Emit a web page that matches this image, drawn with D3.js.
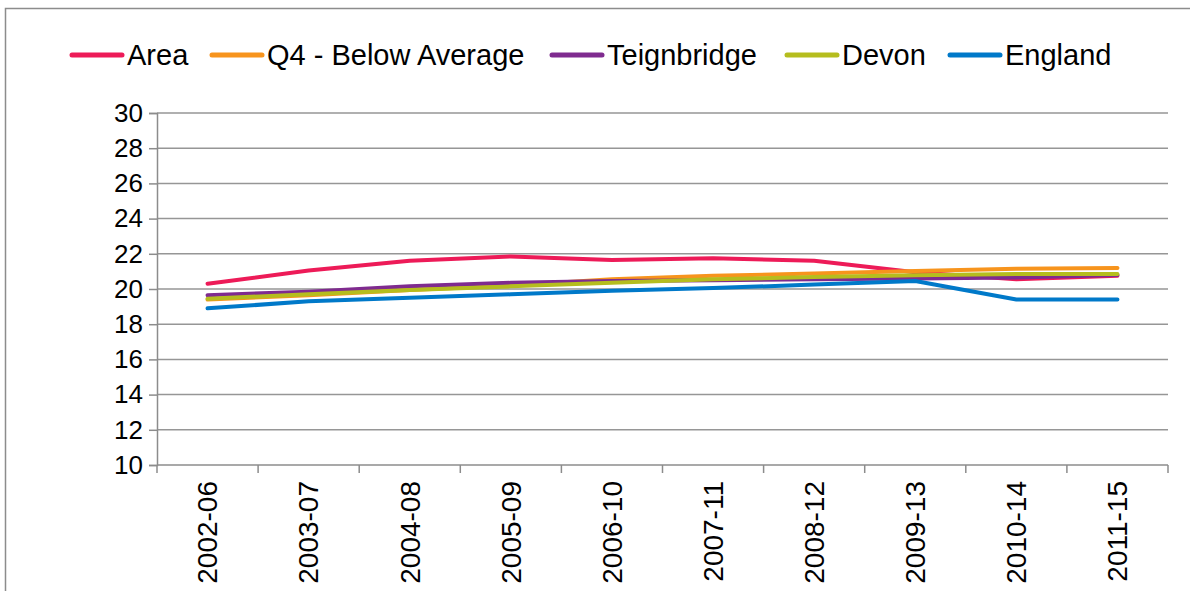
<!DOCTYPE html>
<html>
<head>
<meta charset="utf-8">
<script src="https://cdn.jsdelivr.net/npm/d3@7"></script>
<style>
  body { margin: 0; background: #fff; }
  svg { display: block; font-family: "Liberation Sans", Arial, sans-serif; }
</style>
</head>
<body>
<svg width="1190" height="591"></svg>
<script>
const categories = ["2002-06", "2003-07", "2004-08", "2005-09", "2006-10", "2007-11", "2008-12", "2009-13", "2010-14", "2011-15"];
const seriesNames = ["Area", "Q4 - Below Average", "Teignbridge", "Devon", "England"];
const seriesColors = ["#ed1b58", "#f7941d", "#7f2b8f", "#b5bd1e", "#0079c9"];
const area = [20.3, 21.05, 21.6, 21.85, 21.65, 21.75, 21.6, 20.95, 20.55, 20.75];
const q4 = [19.4, 19.65, 19.95, 20.2, 20.55, 20.75, 20.88, 21.02, 21.15, 21.2];
const teignbridge = [19.65, 19.85, 20.15, 20.35, 20.45, 20.5, 20.55, 20.6, 20.65, 20.8];
const devon = [19.45, 19.7, 19.95, 20.15, 20.35, 20.55, 20.68, 20.78, 20.85, 20.85];
const england = [18.9, 19.3, 19.5, 19.7, 19.9, 20.05, 20.25, 20.45, 19.4, 19.4];
const yTicks = [10, 12, 14, 16, 18, 20, 22, 24, 26, 28, 30];

const allSeries = [area, q4, teignbridge, devon, england];

let svg = d3.select("svg");
let margin = {top: 113, left: 157, right: 22, bottom: 126};
let width = 1190 - margin.left - margin.right, height = 591 - margin.top - margin.bottom;

// outer frame
svg.append("rect")
  .attr("x", 5.5).attr("y", 8.5)
  .attr("width", 1190).attr("height", 600)
  .attr("fill", "none").attr("stroke", "#8c8c8c").attr("stroke-width", 1.5);

let x = d3.scaleBand().domain(categories).range([0, width]);
let y = d3.scaleLinear().domain([10, 30]).range([height, 0]);

let g = svg.append("g").attr("transform", "translate(" + margin.left + "," + margin.top + ")");

// gridlines
g.append("g")
  .selectAll("line")
  .data(yTicks.filter(t => t > 10))
  .enter().append("line")
  .attr("x1", 0).attr("x2", width)
  .attr("y1", d => y(d)).attr("y2", d => y(d))
  .attr("stroke", "#969696").attr("stroke-width", 1.5);

// y axis
let yAxis = g.append("g")
  .call(d3.axisLeft(y).tickValues(yTicks).tickSize(8).tickPadding(6).tickFormat(d3.format("d")));
yAxis.select(".domain").attr("stroke", "#8c8c8c").attr("stroke-width", 1.5);
yAxis.selectAll(".tick line").attr("stroke", "#8c8c8c").attr("stroke-width", 1.5);
yAxis.selectAll("text").attr("font-size", 26).attr("fill", "#000").attr("font-family", "Liberation Sans, Arial, sans-serif");

// x axis: ticks at band boundaries
let xAxis = g.append("g").attr("transform", "translate(0," + height + ")");
xAxis.append("line")
  .attr("x1", 0).attr("x2", width)
  .attr("stroke", "#8c8c8c").attr("stroke-width", 1.5);
xAxis.selectAll(".sep")
  .data(categories.concat(["end"]))
  .enter().append("line")
  .attr("class", "sep")
  .attr("x1", (d, i) => i * x.step()).attr("x2", (d, i) => i * x.step())
  .attr("y1", 0).attr("y2", 8)
  .attr("stroke", "#8c8c8c").attr("stroke-width", 1.5);
xAxis.selectAll(".lbl")
  .data(categories)
  .enter().append("text")
  .attr("class", "lbl")
  .attr("transform", d => "translate(" + (x(d) + x.bandwidth() / 2) + ",16) rotate(-90)")
  .attr("text-anchor", "end")
  .attr("dy", "0.35em")
  .attr("font-size", 28)
  .attr("fill", "#000")
  .text(d => d);

// lines
let line = d3.line()
  .x((d, i) => x(categories[i]) + x.bandwidth() / 2)
  .y(d => y(d));

g.selectAll(".series")
  .data(allSeries)
  .enter().append("path")
  .attr("class", "series")
  .attr("d", d => line(d))
  .attr("fill", "none")
  .attr("stroke", (d, i) => seriesColors[i])
  .attr("stroke-width", 4)
  .attr("stroke-linecap", "round")
  .attr("stroke-linejoin", "round");

// legend
let legendX = [72, 212, 552, 787, 950];
let legend = svg.append("g")
  .selectAll("g")
  .data(seriesNames)
  .enter().append("g")
  .attr("transform", (d, i) => "translate(" + legendX[i] + ",55)");

legend.append("line")
  .attr("x1", 0).attr("x2", 50)
  .attr("stroke", (d, i) => seriesColors[i])
  .attr("stroke-width", 5)
  .attr("stroke-linecap", "round");

legend.append("text")
  .attr("x", 55)
  .attr("dy", "0.35em")
  .attr("font-size", 29)
  .attr("fill", "#000")
  .text(d => d);
</script>
</body>
</html>
